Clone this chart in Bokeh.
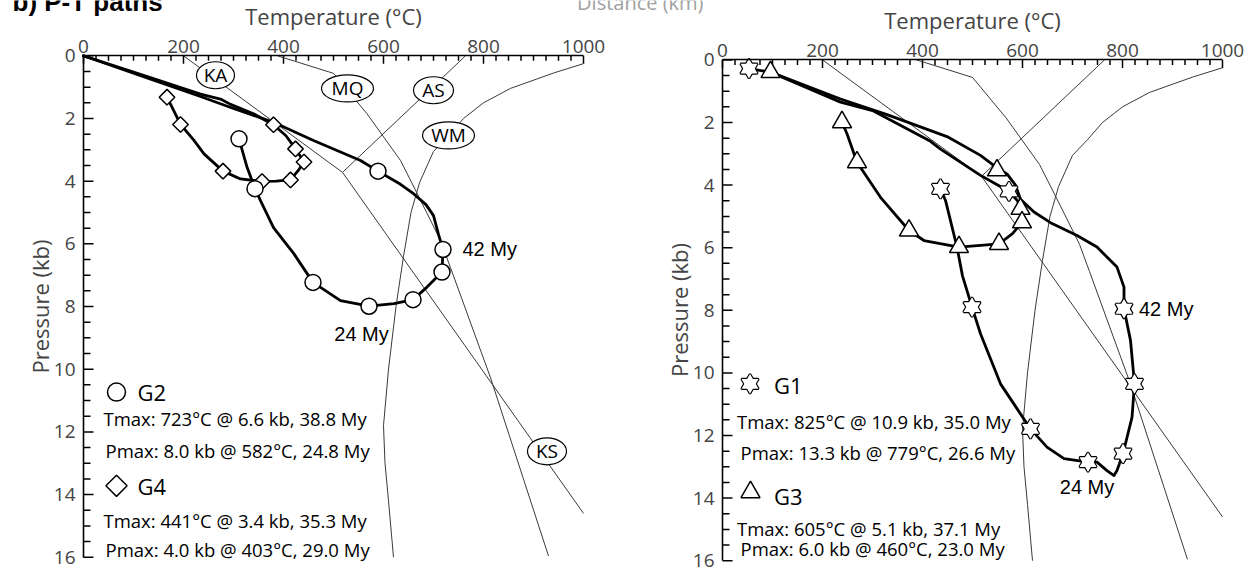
import math
from bokeh.plotting import figure
from bokeh.layouts import row
from bokeh.models import Range1d, FixedTicker, Label
from bokeh.embed import file_html
from bokeh.resources import INLINE

# ---------------- data (T in degC, P in kb) ----------------
# reaction / reference curves
ka_T = [200, 518]
ka_P = [0.0, 3.72]
as_T = [518, 764]
as_P = [3.72, 0.0]
ks_T = [518, 1000]
ks_P = [3.72, 14.6]
mq_T = [388, 500, 567, 634, 671, 714, 734, 814, 930]
mq_P = [0.0, 0.56, 1.85, 3.34, 4.51, 5.89, 6.76, 10.27, 15.96]
wm_T = [1000, 940, 854, 800, 760, 730, 700, 672, 655, 640, 625, 610, 600, 603, 610, 620]
wm_P = [0.25, 0.55, 1.04, 1.5, 2.0, 2.55, 3.05, 4.05, 5.0, 6.4, 8.0, 10.0, 11.8, 13.0, 14.2, 16.0]

curve_names = ["KA", "MQ", "AS", "WM", "KS"]
curve_name_T = [264, 528, 700, 730, 927]
curve_name_P = [0.62, 1.04, 1.10, 2.54, 12.62]

# G2 path (circles)
g2_T = [0, 120, 234, 300, 380, 460, 554, 589, 634, 660, 685, 700, 710, 719, 717, 687, 659, 621, 571, 514, 459, 421, 380, 354, 343, 327, 311]
g2_P = [0, 0.67, 1.3, 1.68, 2.12, 2.70, 3.34, 3.68, 4.1, 4.4, 4.75, 5.1, 5.7, 6.18, 6.9, 7.38, 7.78, 7.91, 7.99, 7.81, 7.23, 6.32, 5.48, 4.62, 4.24, 3.55, 2.65]
g2_mark_T = [311, 343, 459, 571, 659, 717, 719, 589]
g2_mark_P = [2.65, 4.24, 7.23, 7.99, 7.78, 6.9, 6.18, 3.68]

# G4 path (diamonds)
g4_T = [0, 120, 234, 274, 294, 340, 380, 405, 424, 441, 430, 414, 385, 357, 314, 279, 241, 221, 194, 177, 167]
g4_P = [0, 0.62, 1.22, 1.38, 1.55, 1.85, 2.2, 2.55, 2.97, 3.39, 3.65, 3.96, 4.0, 4.01, 3.93, 3.68, 3.13, 2.7, 2.19, 1.64, 1.32]
g4_mark_T = [167, 194, 279, 357, 414, 441, 424, 380]
g4_mark_P = [1.32, 2.19, 3.68, 4.01, 3.96, 3.39, 2.97, 2.2]

# G1 path (stars)
g1_T = [53, 96, 236, 329, 449, 516, 549, 569, 586, 596, 623, 656, 709, 749, 789, 803, 803, 816, 824, 819, 801, 789, 783, 769, 749, 731, 683, 649, 616, 556, 516, 499, 480, 469, 446, 436]
g1_P = [0.28, 0.39, 1.25, 1.75, 2.45, 3.05, 3.45, 3.64, 4.0, 4.45, 4.86, 5.2, 5.61, 5.98, 6.62, 7.26, 7.95, 8.96, 10.35, 11.42, 12.58, 13.12, 13.28, 13.12, 12.85, 12.85, 12.74, 12.37, 11.79, 10.35, 8.75, 7.9, 6.9, 5.98, 4.49, 4.12]
g1_mark_T = [53, 573, 803, 824, 801, 731, 616, 499, 436]
g1_mark_P = [0.28, 4.2, 7.95, 10.35, 12.58, 12.85, 11.79, 7.9, 4.12]

# G3 path (triangles)
g3_T = [96, 236, 300, 416, 436, 516, 545, 573, 590, 596, 599, 580, 553, 473, 403, 373, 316, 269, 249, 239]
g3_P = [0.39, 1.35, 1.62, 2.6, 2.85, 3.69, 3.95, 4.2, 4.5, 4.76, 5.19, 5.55, 5.88, 5.98, 5.77, 5.45, 4.39, 3.27, 2.36, 1.99]
g3_mark_T = [96, 549, 596, 599, 553, 473, 373, 269, 239]
g3_mark_P = [0.39, 3.53, 4.76, 5.19, 5.88, 5.98, 5.45, 3.27, 1.99]

x_ticks = [0, 200, 400, 600, 800, 1000]
x_minor = [t for t in range(0, 1001, 25) if t % 200 != 0]
y_ticks = [0, 2, 4, 6, 8, 10, 12, 14, 16]
y_minor = [i * 0.5 for i in range(33) if i % 4 != 0]

# ---------------- styling helpers ----------------
FONT = "Open Sans"
ELL_W = {"KA": 38, "MQ": 52, "AS": 40, "WM": 52, "KS": 39}


def make_panel(width, x0px, y0px, ppk):
    # frame covers the whole canvas; axes sit at T=0 / P=0 through fixed_location
    t_lo = -x0px * 2.0
    t_hi = (width - x0px) * 2.0
    p_top = -y0px / ppk
    p_bot = (570 - y0px) / ppk
    p = figure(width=width, height=570, x_range=Range1d(t_lo, t_hi), y_range=Range1d(p_bot, p_top),
               x_axis_location="above", output_backend="svg", toolbar_location=None,
               min_border=0)
    p.xgrid.visible = False
    p.ygrid.visible = False
    p.outline_line_color = None
    p.background_fill_color = None
    p.border_fill_color = None
    p.xaxis.ticker = FixedTicker(ticks=x_ticks, minor_ticks=[])
    p.yaxis.ticker = FixedTicker(ticks=y_ticks, minor_ticks=[])
    p.xaxis.fixed_location = 0
    p.yaxis.fixed_location = 0
    p.xaxis.bounds = (0, 1000)
    p.yaxis.bounds = (0, 16)
    for ax in (p.xaxis[0], p.yaxis[0]):
        ax.axis_line_width = 1.6
        ax.major_tick_in = 0
        ax.major_tick_out = 0
        ax.minor_tick_in = 0
        ax.minor_tick_out = 0
        ax.major_label_text_font = FONT
        ax.major_label_text_font_size = "19px"
        ax.axis_label_text_font = FONT
        ax.axis_label_text_font_size = "22px"
        ax.axis_label_text_font_style = "normal"
    p.xaxis.major_label_standoff = 3
    p.yaxis.major_label_standoff = 8
    p.xaxis.axis_label = "Temperature (\u00b0C)"
    p.yaxis.axis_label = "Pressure (kb)"
    p.xaxis.axis_label_standoff = 6
    p.yaxis.axis_label_standoff = -4
    # inward tick marks (pixel lengths converted to data lengths)
    tk = dict(line_color="black", line_width=1.5)
    p.segment(x0=x_ticks, y0=[0] * len(x_ticks), x1=x_ticks, y1=[8 / ppk] * len(x_ticks), **tk)
    p.segment(x0=x_minor, y0=[0] * len(x_minor), x1=x_minor, y1=[5 / ppk] * len(x_minor), **tk)
    p.segment(x0=[0] * len(y_ticks), y0=y_ticks, x1=[20] * len(y_ticks), y1=y_ticks, **tk)
    p.segment(x0=[0] * len(y_minor), y0=y_minor, x1=[14] * len(y_minor), y1=y_minor, **tk)
    return p


def add_text(p, x, y, text, size, font=FONT, align="left", baseline="middle", color="black", style="normal"):
    p.add_layout(Label(x=x, y=y, text=text, text_font=font, text_font_size=f"{size}px",
                       text_align=align, text_baseline=baseline, text_color=color,
                       text_font_style=style))


def ref_curves(p, labels):
    c = "#3a3a3a"
    for T, P in ((ka_T, ka_P), (as_T, as_P), (ks_T, ks_P), (mq_T, mq_P), (wm_T, wm_P)):
        p.line(T, P, line_color=c, line_width=1.0)
    if labels:
        for name, t, pr in zip(curve_names, curve_name_T, curve_name_P):
            p.ellipse(x=[t], y=[pr], width=ELL_W[name], height=27, width_units="screen",
                      height_units="screen", fill_color="white", line_color="black", line_width=1.2)
            add_text(p, t, pr, name, 19, align="center")


def hexagram(p, xs, ys, size=17, lw=2.4):
    p.scatter(xs, ys, marker="triangle", size=size, fill_color="white", line_color="black", line_width=lw)
    p.scatter(xs, ys, marker="inverted_triangle", size=size, fill_color="white", line_color="black", line_width=lw)
    p.scatter(xs, ys, marker="triangle", size=size, fill_color="white", line_color=None)
    p.scatter(xs, ys, marker="inverted_triangle", size=size, fill_color="white", line_color=None)


PATH = dict(line_color="black", line_width=2.8, line_join="round", line_cap="round")
MK = dict(fill_color="white", line_color="black", line_width=1.5)

# ---------------- left panel ----------------
p1 = make_panel(650, 83, 55.3, 31.34)
ref_curves(p1, True)
p1.line(g2_T, g2_P, **PATH)
p1.line(g4_T, g4_P, **PATH)
p1.scatter(g4_mark_T, g4_mark_P, marker="square", angle=math.pi / 4, size=11, **MK)
p1.scatter(g2_mark_T, g2_mark_P, marker="circle", size=16, **MK)
add_text(p1, 758, 6.16, "42 My", 20, font="Liberation Sans")
add_text(p1, 556, 8.87, "24 My", 20, font="Liberation Sans", align="center")

p1.scatter([66], [10.73], marker="circle", size=18, **MK)
add_text(p1, 108, 10.73, "G2", 22)
add_text(p1, 40, 11.58, "Tmax: 723\u00b0C @ 6.6 kb, 38.8 My", 18.5)
add_text(p1, 44, 12.59, "Pmax: 8.0 kb @ 582\u00b0C, 24.8 My", 18.5)
p1.scatter([66], [13.72], marker="square", angle=math.pi / 4, size=15, **MK)
add_text(p1, 108, 13.72, "G4", 22)
add_text(p1, 40, 14.83, "Tmax: 441\u00b0C @ 3.4 kb, 35.3 My", 18.5)
add_text(p1, 44, 15.76, "Pmax: 4.0 kb @ 403\u00b0C, 29.0 My", 18.5)

add_text(p1, -142, -1.73, "b) P-T paths", 26, font="Liberation Sans", style="bold")
add_text(p1, 1240, -1.70, "Distance (km)", 20, align="right", color="#a0a0a0")

# ---------------- right panel ----------------
p2 = make_panel(601, 72, 59.4, 31.3)
ref_curves(p2, False)
p2.line(g3_T, g3_P, **PATH)
p2.line(g1_T, g1_P, **PATH)
p2.scatter(g3_mark_T, g3_mark_P, marker="triangle", size=19, **MK)
hexagram(p2, g1_mark_T, g1_mark_P)
add_text(p2, 833, 7.95, "42 My", 20, font="Liberation Sans")
add_text(p2, 729, 13.65, "24 My", 20, font="Liberation Sans", align="center")

hexagram(p2, [55], [10.35], size=17)
add_text(p2, 103, 10.4, "G1", 22)
add_text(p2, 29, 11.54, "Tmax: 825\u00b0C @ 10.9 kb, 35.0 My", 18.5)
add_text(p2, 36, 12.53, "Pmax: 13.3 kb @ 779\u00b0C, 26.6 My", 18.5)
p2.scatter([56], [13.81], marker="triangle", size=19, **MK)
add_text(p2, 103, 13.92, "G3", 22)
add_text(p2, 29, 14.98, "Tmax: 605\u00b0C @ 5.1 kb, 37.1 My", 18.5)
add_text(p2, 36, 15.62, "Pmax: 6.0 kb @ 460\u00b0C, 23.0 My", 18.5)
add_text(p2, -38, -1.833, "Distance (km)", 20, align="right", color="#a0a0a0")

layout = row(p1, p2)
open("out.html", "w").write(file_html(layout, INLINE))
